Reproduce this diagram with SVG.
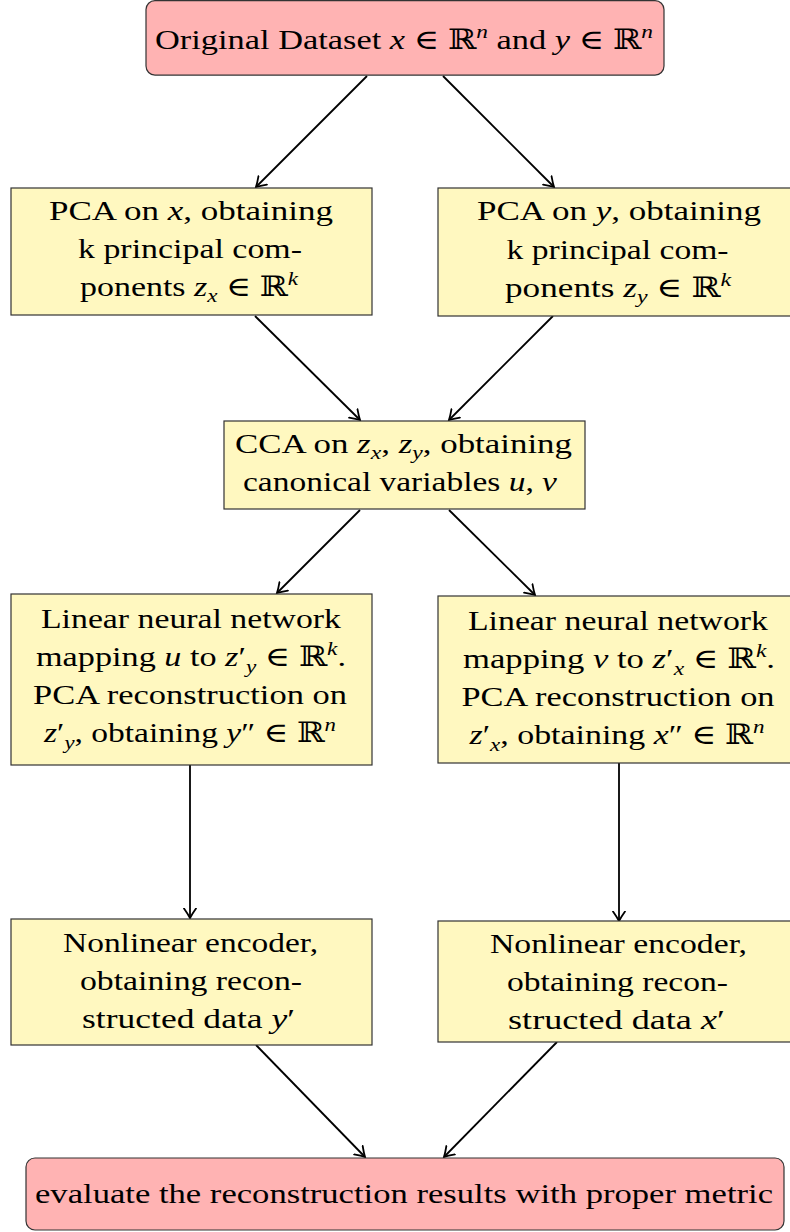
<svg xmlns="http://www.w3.org/2000/svg" width="790" height="1232" viewBox="0 0 790 1232">
<style>
text{font-family:"Liberation Serif","DejaVu Serif",serif;font-size:28px;fill:#000;text-anchor:middle}
.i{font-style:italic}
.sup{font-size:19px}
.sub{font-size:19px}
.red{fill:#ffb3b3;stroke:#333;stroke-width:1.2}
.yel{fill:#fff8c0;stroke:#333;stroke-width:1.2}
.conn line{stroke:#000;stroke-width:1.8;marker-end:url(#arr)}
</style>
<defs>
<marker id="arr" markerUnits="userSpaceOnUse" markerWidth="20" markerHeight="20" viewBox="-10 -10 20 20" refX="0" refY="0" orient="auto">
<path d="M -9.5 -6 Q -3.5 -1.8 0 0 Q -3.5 1.8 -9.5 6" fill="none" stroke="#000" stroke-width="1.8" stroke-linecap="round"/>
</marker>
</defs>
<rect width="790" height="1232" fill="#fff"/>
<g id="connectors" class="conn">
<line x1="367" y1="76" x2="256" y2="187"/>
<line x1="443" y1="76" x2="554" y2="187"/>
<line x1="255" y1="316" x2="360" y2="420"/>
<line x1="553" y1="316" x2="449" y2="420"/>
<line x1="360" y1="510" x2="277" y2="593"/>
<line x1="449" y1="510" x2="535" y2="595"/>
<line x1="190" y1="765" x2="190" y2="918"/>
<line x1="619" y1="763" x2="619" y2="921"/>
<line x1="256" y1="1045" x2="365" y2="1157"/>
<line x1="557" y1="1042" x2="444" y2="1157"/>
</g>
<g id="n_original">
<rect class="red" x="146" y="0.6" width="518" height="74.5" rx="9"/>
<text x="404" y="49" textLength="498" lengthAdjust="spacingAndGlyphs">Original Dataset <tspan class="i">x</tspan> ∈ ℝ<tspan class="sup i" dy="-11">n</tspan><tspan dy="11"> and </tspan><tspan class="i">y</tspan> ∈ ℝ<tspan class="sup i" dy="-11">n</tspan></text>
</g>
<g id="n_pcax">
<rect class="yel" x="11" y="188" width="361" height="127"/>
<text x="191" y="220" textLength="284" lengthAdjust="spacingAndGlyphs">PCA on <tspan class="i">x</tspan>, obtaining</text>
<text x="190" y="258" textLength="224" lengthAdjust="spacingAndGlyphs">k principal com-</text>
<text x="189" y="296" textLength="218" lengthAdjust="spacingAndGlyphs">ponents <tspan class="i">z</tspan><tspan class="sub i" dy="6">x</tspan><tspan dy="-6"> ∈ ℝ</tspan><tspan class="sup i" dy="-11">k</tspan></text>
</g>
<g id="n_pcay">
<rect class="yel" x="438" y="188" width="361" height="128"/>
<text x="619" y="220" textLength="284" lengthAdjust="spacingAndGlyphs">PCA on <tspan class="i">y</tspan>, obtaining</text>
<text x="617.5" y="259" textLength="222" lengthAdjust="spacingAndGlyphs">k principal com-</text>
<text x="618" y="297" textLength="226" lengthAdjust="spacingAndGlyphs">ponents <tspan class="i">z</tspan><tspan class="sub i" dy="6">y</tspan><tspan dy="-6"> ∈ ℝ</tspan><tspan class="sup i" dy="-11">k</tspan></text>
</g>
<g id="n_cca">
<rect class="yel" x="224" y="421" width="361" height="88"/>
<text x="403.5" y="453" textLength="337" lengthAdjust="spacingAndGlyphs">CCA on <tspan class="i">z</tspan><tspan class="sub i" dy="6">x</tspan><tspan dy="-6">, </tspan><tspan class="i">z</tspan><tspan class="sub i" dy="6">y</tspan><tspan dy="-6">, obtaining</tspan></text>
<text x="400" y="491" textLength="314" lengthAdjust="spacingAndGlyphs">canonical variables <tspan class="i">u</tspan>, <tspan class="i">v</tspan></text>
</g>
<g id="n_linl">
<rect class="yel" x="11" y="594" width="361" height="171"/>
<text x="191" y="628" textLength="300" lengthAdjust="spacingAndGlyphs">Linear neural network</text>
<text x="191" y="666" textLength="310" lengthAdjust="spacingAndGlyphs">mapping <tspan class="i">u</tspan> to <tspan class="i">z</tspan>′<tspan class="sub i" dy="7">y</tspan><tspan dy="-7"> ∈ ℝ</tspan><tspan class="sup i" dy="-11">k</tspan><tspan dy="11">.</tspan></text>
<text x="190" y="704" textLength="314" lengthAdjust="spacingAndGlyphs">PCA reconstruction on</text>
<text x="190" y="742" textLength="292" lengthAdjust="spacingAndGlyphs"><tspan class="i">z</tspan>′<tspan class="sub i" dy="7">y</tspan><tspan dy="-7">, obtaining </tspan><tspan class="i">y</tspan>″ ∈ ℝ<tspan class="sup i" dy="-11">n</tspan></text>
</g>
<g id="n_linr">
<rect class="yel" x="438" y="596" width="361" height="167"/>
<text x="618" y="630" textLength="300" lengthAdjust="spacingAndGlyphs">Linear neural network</text>
<text x="619" y="668" textLength="312" lengthAdjust="spacingAndGlyphs">mapping <tspan class="i">v</tspan> to <tspan class="i">z</tspan>′<tspan class="sub i" dy="7">x</tspan><tspan dy="-7"> ∈ ℝ</tspan><tspan class="sup i" dy="-11">k</tspan><tspan dy="11">.</tspan></text>
<text x="618" y="706" textLength="313" lengthAdjust="spacingAndGlyphs">PCA reconstruction on</text>
<text x="617" y="744" textLength="295" lengthAdjust="spacingAndGlyphs"><tspan class="i">z</tspan>′<tspan class="sub i" dy="7">x</tspan><tspan dy="-7">, obtaining </tspan><tspan class="i">x</tspan>″ ∈ ℝ<tspan class="sup i" dy="-11">n</tspan></text>
</g>
<g id="n_nonl">
<rect class="yel" x="11" y="919" width="361" height="126"/>
<text x="190.5" y="952" textLength="255" lengthAdjust="spacingAndGlyphs">Nonlinear encoder,</text>
<text x="191" y="990" textLength="222" lengthAdjust="spacingAndGlyphs">obtaining recon-</text>
<text x="188.5" y="1028" textLength="213" lengthAdjust="spacingAndGlyphs">structed data <tspan class="i">y</tspan>′</text>
</g>
<g id="n_nonr">
<rect class="yel" x="438" y="921" width="361" height="121"/>
<text x="618.5" y="953" textLength="257" lengthAdjust="spacingAndGlyphs">Nonlinear encoder,</text>
<text x="617.5" y="991" textLength="221" lengthAdjust="spacingAndGlyphs">obtaining recon-</text>
<text x="616.5" y="1029" textLength="217" lengthAdjust="spacingAndGlyphs">structed data <tspan class="i">x</tspan>′</text>
</g>
<g id="n_eval">
<rect class="red" x="26" y="1158" width="758" height="72" rx="9"/>
<text x="404" y="1203" textLength="738" lengthAdjust="spacingAndGlyphs">evaluate the reconstruction results with proper metric</text>
</g>
</svg>
